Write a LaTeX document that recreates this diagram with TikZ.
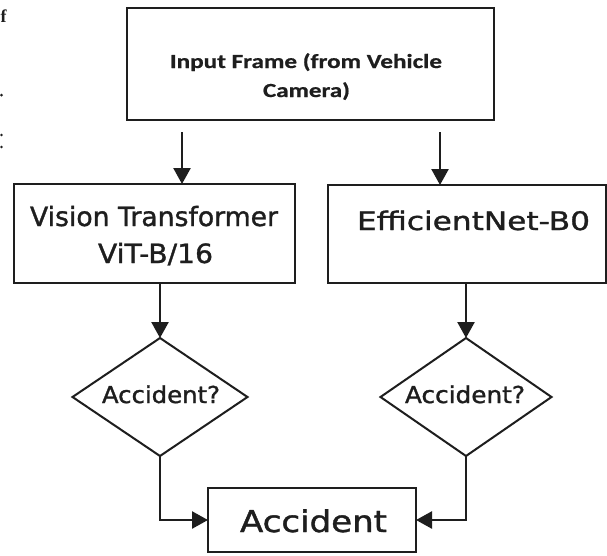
\documentclass[tikz,border=0pt]{standalone}
\usepackage{fontspec}
\usepackage{graphicx}
\setmainfont[FakeBold=1.2]{DejaVu Sans}
\newfontfamily\titlefont[FakeBold=0.6]{Carlito}
\newfontfamily\cutfont{Liberation Serif}
\usetikzlibrary{arrows.meta,shapes.geometric}

\definecolor{ink}{HTML}{1E1E1E}

% text at a given size, stretched horizontally to a given width
\newcommand{\widetext}[3]{\resizebox{#1pt}{\height}{\fontsize{#2}{#2}\selectfont #3}}

\begin{document}
\begin{tikzpicture}[x=1pt,y=-1pt,
  procbox/.style={draw=ink, rectangle, line width=2.4pt, inner sep=0pt, outer sep=0pt},
  decision/.style={draw=ink, diamond, line width=2pt, inner sep=0pt, outer sep=0pt,
                   minimum width=175pt, minimum height=118pt},
  label/.style={anchor=base, inner sep=0pt, text=ink},
  flow/.style={draw=ink, line width=2.4pt, line join=miter,
               -{Triangle[length=16pt,width=17pt]}}]

\useasboundingbox (0,0) rectangle (607,555);
\fill[white] (0,0) rectangle (607,555);

% shapes
\node[procbox, minimum width=367pt, minimum height=112pt] (input) at (310.5,64) {};
\node[procbox, minimum width=281pt, minimum height=99pt] (vit) at (154.5,233.5) {};
\node[procbox, minimum width=278pt, minimum height=98pt] (eff) at (467,234) {};
\node[decision] (dvit) at (160,397) {};
\node[decision, minimum width=171pt] (deff) at (466,397) {};
\node[procbox, minimum width=208pt, minimum height=64pt] (acc) at (312,520) {};

% texts
\node[label] (inputa) at (306,68) {\widetext{272}{20}{\titlefont\bfseries Input Frame (from Vehicle}};
\node[label] (inputb) at (306.5,97) {\widetext{87}{20}{\titlefont\bfseries Camera)}};
\node[label] (vita) at (154,226) {\widetext{248}{26.5}{Vision Transformer}};
\node[label] (vitb) at (155.5,263) {\widetext{115}{26.5}{ViT-B/16}};
\node[label] (effa) at (473.5,230) {\widetext{233}{25.5}{EfficientNet-B0}};
\node[label] (dvita) at (161,403) {\widetext{118}{23.3}{Accident?}};
\node[label] (deffa) at (465,403) {\widetext{120}{23.3}{Accident?}};
\node[label] (acca) at (313.5,532) {\widetext{147}{30}{Accident}};

% connectors
\coordinate (lcol) at (182,0);
\coordinate (rcol) at (440,0);
\draw[flow, shorten <=12pt] (input.south -| lcol) -- (vit.north -| lcol);
\draw[flow, shorten <=12pt] (input.south -| rcol) -- (eff.north -| rcol);
\draw[flow] (vit.south -| dvit.north) -- (dvit.north);
\draw[flow] (eff.south -| deff.north) -- (deff.north);
\draw[flow] (dvit.south) |- (acc.west);
\draw[flow] (deff.south) |- (acc.east);

% characters along the left edge
\node[anchor=base west, inner sep=0pt, text=ink] (cutf) at (0.5,22) {\fontsize{18}{18}\selectfont\cutfont\bfseries f};
\fill[ink] (1.5,95) circle (1.5);
\fill[ink] (1.5,135) circle (1.4);
\fill[ink] (1.5,147) circle (1.4);
\end{tikzpicture}
\end{document}
